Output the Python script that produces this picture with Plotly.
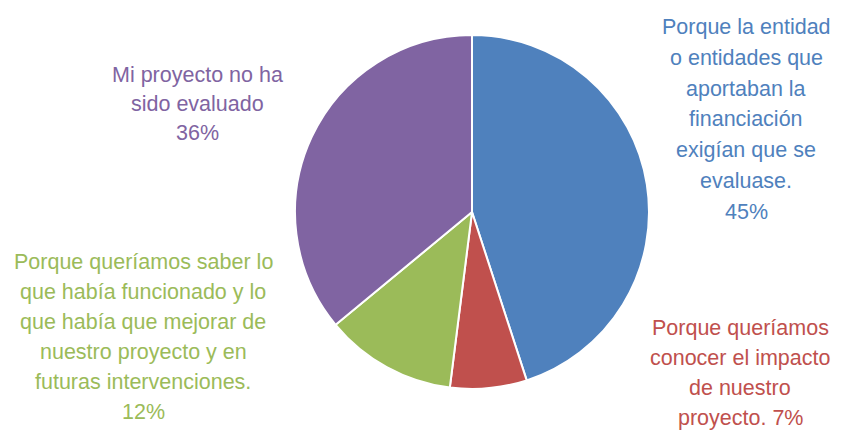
import plotly.graph_objects as go

# the page body adds an 8px margin, so the figure is drawn 8px in from the corner
W, H = 833, 422
OFF = 8

categories = [
    "Porque la entidad o entidades que aportaban la financiación exigían que se evaluase.",
    "Porque queríamos conocer el impacto de nuestro proyecto.",
    "Porque queríamos saber lo que había funcionado y lo que había que mejorar de nuestro proyecto y en futuras intervenciones.",
    "Mi proyecto no ha sido evaluado",
]
values = [45, 7, 12, 36]
colors = ["#4F81BD", "#C0504D", "#9BBB59", "#8064A2"]

# label text as it is broken in the chart
label_lines = [
    ["Porque la entidad", "o entidades que", "aportaban la", "financiación",
     "exigían que se", "evaluase.", "45%"],
    ["Porque queríamos", "conocer el impacto", "de nuestro", "proyecto. 7%"],
    ["Porque queríamos saber lo", "que había funcionado y lo",
     "que había que mejorar de", "nuestro proyecto y en",
     "futuras intervenciones.", "12%"],
    ["Mi proyecto no ha", "sido evaluado", "36%"],
]

# label block placement in window pixels: (center x, first line y, line step)
label_pos = [
    (746, 27, 30.8),
    (740, 328, 30.0),
    (143, 262, 30.0),
    (197, 75, 29.0),
]

# pie geometry in window pixels
cx, cy, r = 472, 212, 177


def px(x):
    return (x - OFF) / W


def py(y):
    return 1 - (y - OFF) / H


fig = go.Figure(
    go.Pie(
        labels=categories,
        values=values,
        sort=False,
        direction="clockwise",
        rotation=0,
        marker=dict(colors=colors, line=dict(color="white", width=2)),
        textinfo="none",
        hoverinfo="label+percent",
        domain=dict(x=[px(cx - r), px(cx + r)], y=[py(cy + r), py(cy - r)]),
    )
)

for lines, (x, y0, step), col in zip(label_lines, label_pos, colors):
    for i, line in enumerate(lines):
        fig.add_annotation(
            x=px(x),
            y=py(y0 + i * step),
            xref="paper",
            yref="paper",
            text=line,
            showarrow=False,
            xanchor="center",
            yanchor="middle",
            font=dict(size=21.5, color=col, family="Liberation Sans, Arial, sans-serif"),
        )

fig.update_layout(
    width=W,
    height=H,
    margin=dict(l=0, r=0, t=0, b=0),
    showlegend=False,
    paper_bgcolor="white",
    plot_bgcolor="white",
)

fig.write_html("out.html")
